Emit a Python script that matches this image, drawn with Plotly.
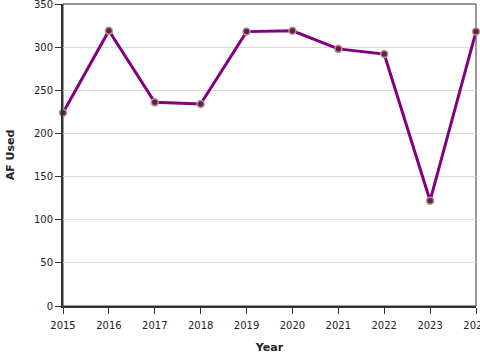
import plotly.graph_objects as go

years = [2015, 2016, 2017, 2018, 2019, 2020, 2021, 2022, 2023, 2024]
af_used = [224, 319, 236, 234, 318, 319, 298, 292, 122, 318]
y_ticks = [0, 50, 100, 150, 200, 250, 300, 350]

fig = go.Figure()
fig.add_trace(go.Scatter(
    x=years, y=af_used, mode="lines+markers",
    line=dict(color="#800080", width=3),
    marker=dict(size=7, color="#6a1a50", line=dict(color="#b09a8a", width=1.5)),
    showlegend=False, cliponaxis=False,
))

fig.update_layout(
    width=480, height=360,
    margin=dict(l=63, r=4, t=4, b=54, autoexpand=False),
    paper_bgcolor="white", plot_bgcolor="white",
    font=dict(family="DejaVu Sans", size=10, color="#222"),
    xaxis=dict(
        range=[2015, 2024], tickmode="array", tickvals=years,
        ticks="outside", ticklen=6, tickcolor="#333",
        ticklabelstandoff=3, ticklabeloverflow="allow",
        showline=True, linecolor="#333", linewidth=2,
        showgrid=False, zeroline=False, automargin=False,
        title=dict(text="<b>Year</b>", font=dict(size=11), standoff=13),
    ),
    yaxis=dict(
        range=[0, 350], tickmode="array", tickvals=y_ticks,
        ticks="outside", ticklen=6, tickcolor="#333",
        ticklabeloverflow="allow",
        showline=True, linecolor="#333", linewidth=2,
        showgrid=True, gridcolor="#d9d9d9", gridwidth=1,
        zeroline=False, automargin=False,
        title=dict(text="<b>AF Used</b>", font=dict(size=11), standoff=17),
    ),
)
fig.add_shape(type="rect", xref="paper", yref="paper", x0=0, y0=0, x1=1, y1=1,
              line=dict(color="#333", width=1), layer="below")

fig.write_html("out.html", config={"displayModeBar": False},
               post_script="document.body.style.margin='0';")
